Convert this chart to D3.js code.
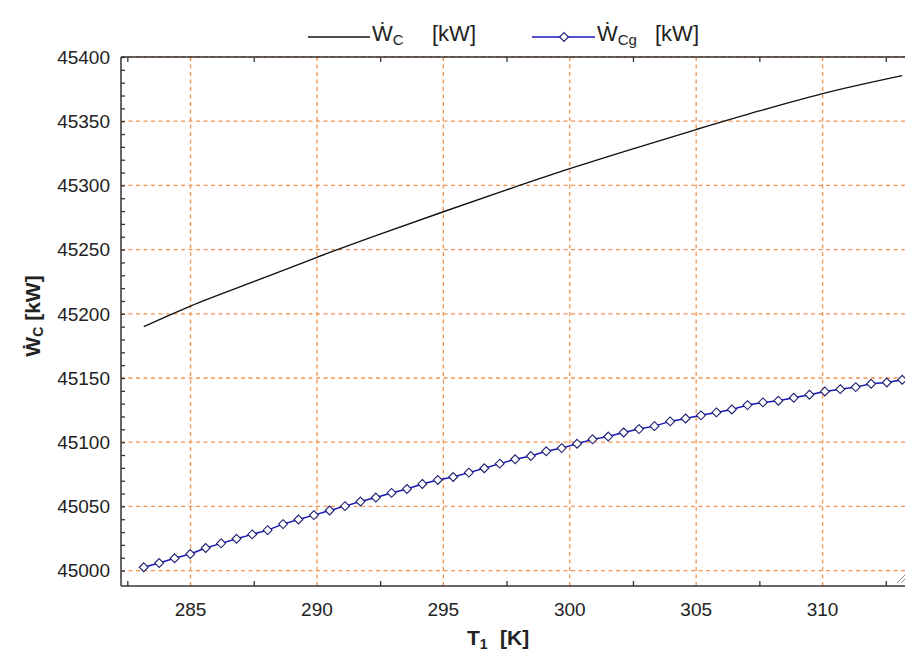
<!DOCTYPE html>
<html>
<head>
<meta charset="utf-8">
<script src="https://cdn.jsdelivr.net/npm/d3@7"></script>
<style>
  html, body { margin: 0; padding: 0; background: #fff; }
  svg { display: block; }
  text { font-family: "Liberation Sans", Arial, "DejaVu Sans", sans-serif; fill: #222; }
</style>
</head>
<body>
<svg id="chart" width="905" height="654"></svg>
<script>
// ---- data ----
const xTickLabels = [285, 290, 295, 300, 305, 310];
const xMinorTicks = [282.5, 287.5, 292.5, 297.5, 302.5, 307.5, 312.5];
const yTickLabels = [45000, 45050, 45100, 45150, 45200, 45250, 45300, 45350, 45400];

const wcT = [283.15, 285, 287.5, 290, 292.5, 295, 297.5, 300, 302.5, 305, 307.5, 310, 313.15];
const wcValues = [45190, 45206, 45225, 45244, 45262, 45279.5, 45296.5, 45313, 45328.5, 45343.5, 45358, 45371.5, 45385.5];

const wcgT = [283.15, 283.76, 284.37, 284.99, 285.60, 286.21, 286.82, 287.44, 288.05, 288.66,
  289.27, 289.88, 290.50, 291.11, 291.72, 292.33, 292.95, 293.56, 294.17, 294.78,
  295.39, 296.01, 296.62, 297.23, 297.84, 298.46, 299.07, 299.68, 300.29, 300.90,
  301.52, 302.13, 302.74, 303.35, 303.97, 304.58, 305.19, 305.80, 306.41, 307.03,
  307.64, 308.25, 308.86, 309.48, 310.09, 310.70, 311.31, 311.92, 312.54, 313.15];
const wcgValues = [45002.6, 45005.9, 45009.6, 45012.9, 45017.6, 45021.2, 45024.8, 45028.2, 45031.5, 45036.2,
  45039.8, 45043.2, 45046.8, 45050.2, 45053.8, 45056.9, 45060.5, 45063.6, 45067.5, 45070.6,
  45072.9, 45076.3, 45079.7, 45083.3, 45086.7, 45089.2, 45092.9, 45095.4, 45098.8, 45102.2,
  45104.4, 45107.6, 45110.2, 45112.5, 45116.2, 45118.5, 45120.9, 45123.2, 45125.5, 45128.9,
  45131.0, 45132.3, 45134.6, 45137.0, 45139.5, 45141.3, 45142.9, 45145.5, 45146.5, 45148.6];

// ---- layout ----
const L = 121, R = 905, T = 57, B = 586;
const svg = d3.select("#chart");
const x = d3.scaleLinear().domain([282.25, 313.26]).range([L, R]);
const y = d3.scaleLinear().domain([44988, 45400]).range([B, T]);

const gridColor = "#ef9452";
const axisColor = "#333";

// grid
const grid = svg.append("g");
grid.selectAll("line.h").data(yTickLabels).join("line")
  .attr("x1", L).attr("x2", R).attr("y1", d => y(d)).attr("y2", d => y(d))
  .attr("stroke", gridColor).attr("stroke-width", 1.3).attr("stroke-dasharray", "4,3.5");
grid.selectAll("line.v").data(xTickLabels).join("line")
  .attr("x1", d => x(d)).attr("x2", d => x(d)).attr("y1", T).attr("y2", B)
  .attr("stroke", gridColor).attr("stroke-width", 1.3).attr("stroke-dasharray", "4,3.5");

// axes frame
svg.append("line").attr("x1", L).attr("x2", L).attr("y1", T).attr("y2", B).attr("stroke", axisColor).attr("stroke-width", 1.5);
svg.append("line").attr("x1", L).attr("x2", R).attr("y1", B).attr("y2", B).attr("stroke", axisColor).attr("stroke-width", 1.5);
svg.append("line").attr("x1", L).attr("x2", R).attr("y1", T).attr("y2", T).attr("stroke", axisColor).attr("stroke-width", 1.5);

// y axis (ticks inside, every 10)
const yAxis = d3.axisRight(y).tickValues(d3.range(45000, 45401, 10)).tickSize(4).tickFormat("");
svg.append("g").attr("transform", `translate(${L},0)`).call(yAxis)
  .call(g => g.select(".domain").remove())
  .call(g => g.selectAll("line").attr("stroke", axisColor).attr("stroke-width", 1.3));
svg.append("g").selectAll("text").data(yTickLabels).join("text")
  .attr("x", 110).attr("y", d => y(d)).attr("dy", "0.36em")
  .attr("text-anchor", "end").attr("font-size", 19).text(d => d);

// x axis ticks (minor positions), bottom pointing up and top pointing down
const xAxisB = d3.axisTop(x).tickValues(xMinorTicks).tickSize(5).tickFormat("");
svg.append("g").attr("transform", `translate(0,${B})`).call(xAxisB)
  .call(g => g.select(".domain").remove())
  .call(g => g.selectAll("line").attr("stroke", axisColor).attr("stroke-width", 1.3));
const xAxisT = d3.axisBottom(x).tickValues(xMinorTicks).tickSize(5).tickFormat("");
svg.append("g").attr("transform", `translate(0,${T})`).call(xAxisT)
  .call(g => g.select(".domain").remove())
  .call(g => g.selectAll("line").attr("stroke", axisColor).attr("stroke-width", 1.3));
svg.append("g").selectAll("text").data(xTickLabels).join("text")
  .attr("x", d => x(d)).attr("y", 616)
  .attr("text-anchor", "middle").attr("font-size", 19).text(d => d);

// series
const wc = wcT.map((t, i) => [t, wcValues[i]]);
const wcg = wcgT.map((t, i) => [t, wcgValues[i]]);
const line = d3.line().x(d => x(d[0])).y(d => y(d[1])).curve(d3.curveMonotoneX);
svg.append("path").attr("d", line(wc)).attr("fill", "none").attr("stroke", "#111").attr("stroke-width", 1.4);
svg.append("path").attr("d", d3.line().x(d => x(d[0])).y(d => y(d[1]))(wcg))
  .attr("fill", "none").attr("stroke", "#1818b8").attr("stroke-width", 1.5);
const diamond = d3.symbol().type(d3.symbolDiamond2).size(50);
svg.append("g").selectAll("path").data(wcg).join("path")
  .attr("d", diamond)
  .attr("transform", d => `translate(${x(d[0])},${y(d[1])})`)
  .attr("fill", "#fff").attr("stroke", "#1c1c70").attr("stroke-width", 1.1);

// resize grip
const grip = svg.append("g").attr("stroke", "#888").attr("stroke-width", 1);
grip.append("line").attr("x1", 897).attr("y1", 583).attr("x2", 905).attr("y2", 575);
grip.append("line").attr("x1", 901).attr("y1", 583).attr("x2", 905).attr("y2", 579);

// legend
const lg = svg.append("g");
lg.append("line").attr("x1", 308).attr("x2", 370).attr("y1", 37).attr("y2", 37).attr("stroke", "#111").attr("stroke-width", 1.4);
const t1 = lg.append("text").attr("x", 372).attr("y", 41).attr("font-size", 22);
t1.append("tspan").text("Ẇ");
t1.append("tspan").attr("font-size", 15).attr("dy", 4).text("C");
t1.append("tspan").attr("dy", -4).attr("x", 432).text("[kW]");

lg.append("line").attr("x1", 532).attr("x2", 595).attr("y1", 37).attr("y2", 37).attr("stroke", "#1818b8").attr("stroke-width", 1.4);
lg.append("path").attr("d", diamond).attr("transform", "translate(564,37)")
  .attr("fill", "#fff").attr("stroke", "#1c1c70").attr("stroke-width", 1.1);
const t2 = lg.append("text").attr("x", 597).attr("y", 41).attr("font-size", 22);
t2.append("tspan").text("Ẇ");
t2.append("tspan").attr("font-size", 15).attr("dy", 4).text("Cg");
t2.append("tspan").attr("dy", -4).attr("x", 655).text("[kW]");

// x title
const xt = svg.append("text").attr("x", 467).attr("y", 645).attr("font-size", 21).attr("font-weight", "bold");
xt.append("tspan").text("T");
xt.append("tspan").attr("font-size", 14).attr("dy", 4).text("1");
xt.append("tspan").attr("dy", -4).attr("x", 500).text("[K]");

// y title
const yt = svg.append("text").attr("transform", "translate(40,316) rotate(-90)")
  .attr("text-anchor", "middle").attr("font-size", 21).attr("font-weight", "bold");
yt.append("tspan").text("Ẇ");
yt.append("tspan").attr("font-size", 14).attr("dy", 3).text("C");
yt.append("tspan").attr("dy", -3).text("  [kW]");
</script>
</body>
</html>
